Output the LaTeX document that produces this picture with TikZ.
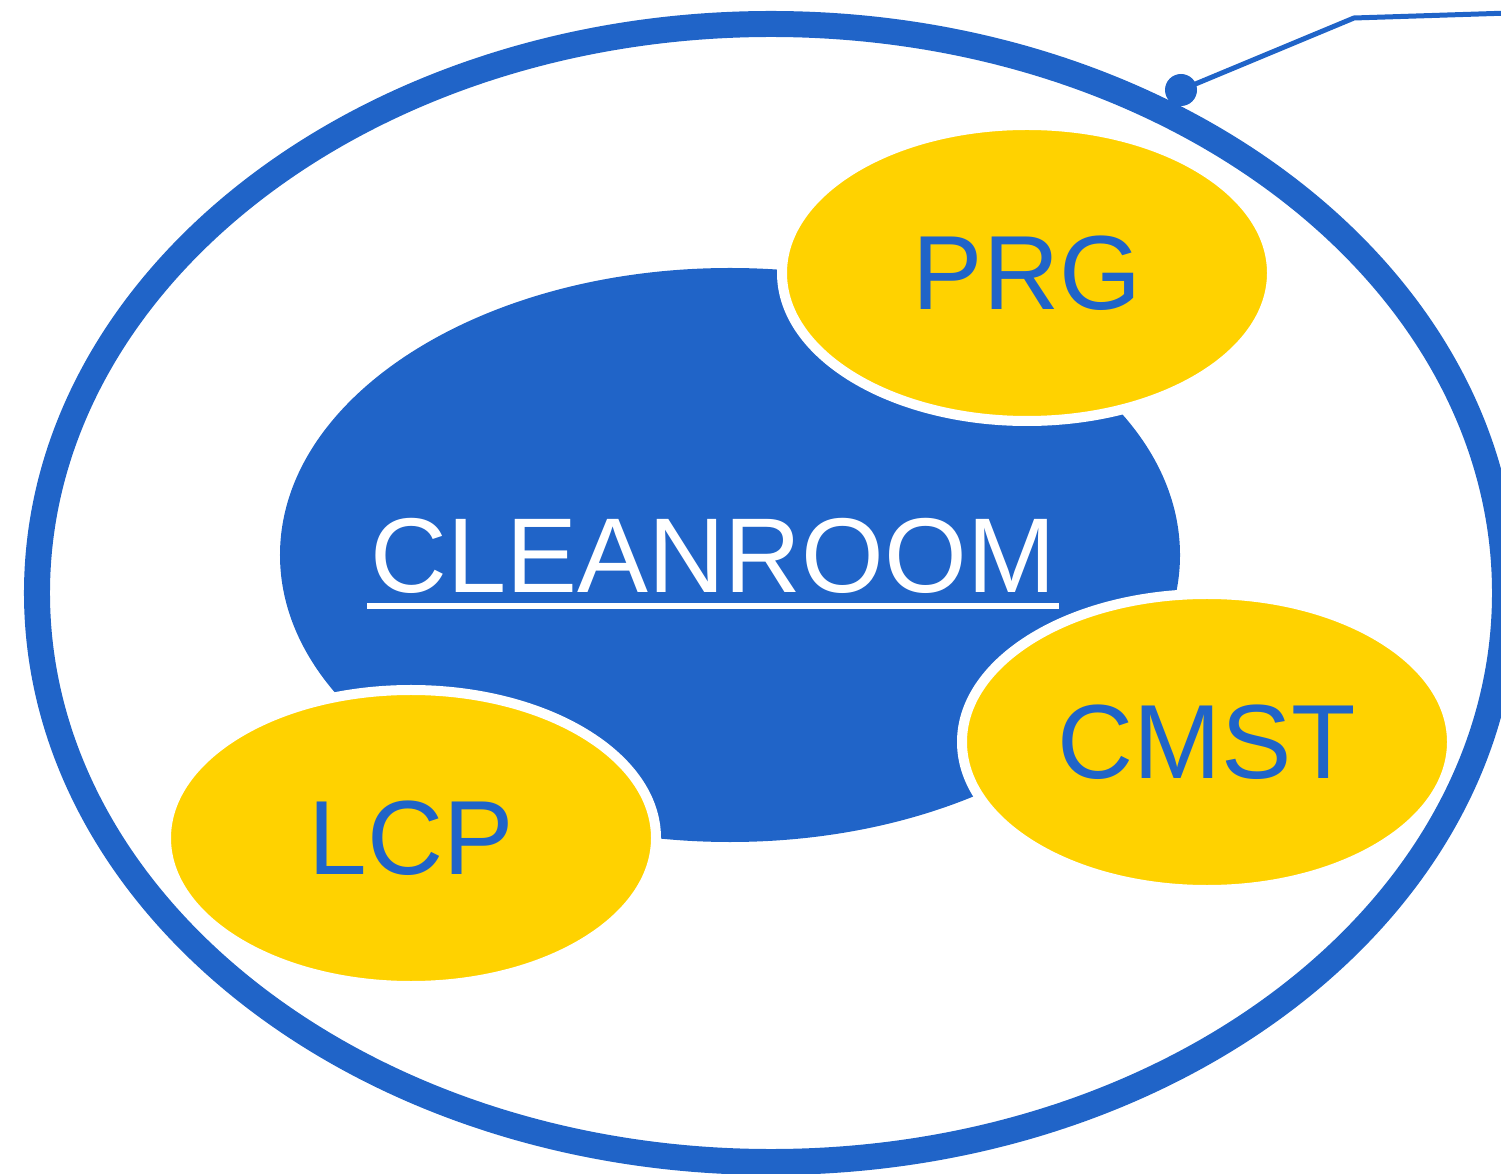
\documentclass[tikz,border=0pt]{standalone}
\usepackage{fontspec}
\setmainfont{Liberation Sans}
\usepackage{tikz}
\usetikzlibrary{shapes.geometric}
\usetikzlibrary{calc}
\usetikzlibrary{positioning}
\definecolor{cblue}{RGB}{32,100,200}
\definecolor{cyellow}{RGB}{255,210,0}

\begin{document}
\begin{tikzpicture}[x=0.2mm,y=-0.2mm,
	bigtext/.style={font=\fontsize{60.5}{72}\selectfont,inner sep=0pt},
	group/.style={ellipse,fill=cyellow,draw=white,line width=2mm,minimum width=98mm,minimum height=59.2mm,inner sep=0pt,text=cblue,font=\fontsize{60}{72}\selectfont}]
			\useasboundingbox (0,0) rectangle (1501,1174);
			%outer ring
			\node[ellipse,draw=cblue,line width=5.2mm,minimum width=293.6mm,minimum height=227.6mm,inner sep=0pt] (ring) at (771,593) {};
			%cleanroom body
			\node[ellipse,fill=cblue,minimum width=180mm,minimum height=114.8mm,inner sep=0pt] (room) at (730,555) {};
			\node[bigtext,text=white,anchor=base] (cleanroom) at (713,593) {CLEANROOM};
			\draw[white,line width=1.2mm] ($(cleanroom.base west)+(-3,13)$)--($(cleanroom.base east)+(3,13)$);
			%groups
			\node[group] (prg) at (1027,273) {PRG};
			\node[group] (cmst) at (1207,742) {CMST};
			\node[group] (lcp) at (411,838) {LCP};
			%pin line
			\coordinate (pin) at (1181,90);
			\coordinate (bend) at (1354,18);
			\coordinate (edge) at (1510,13);
			\fill[cblue] (pin) circle (3.2mm);
			\draw[cblue,line width=1mm] (pin)--(bend)--(edge);
		\end{tikzpicture}
\end{document}
